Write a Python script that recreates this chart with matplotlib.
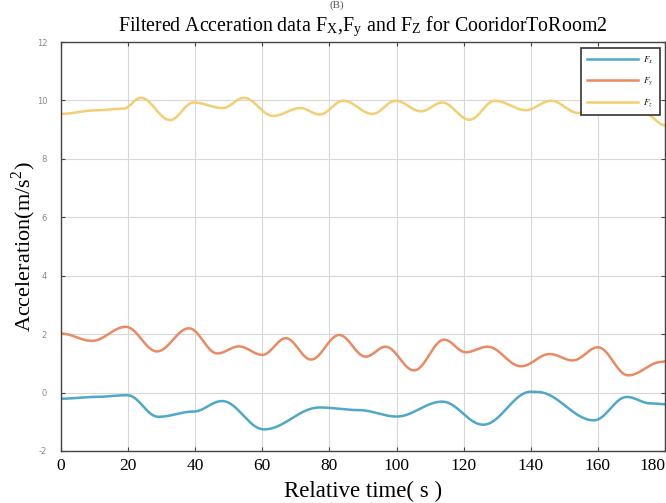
import numpy as np
import matplotlib
matplotlib.use("Agg")
import matplotlib.pyplot as plt

# values (time in s, acceleration in m/s^2)
fx_t = [0, 10, 19.8, 29, 39.5, 48, 60.5, 77, 88.7, 100, 113.6, 125.8, 140, 142, 158.8, 168.6, 175.6, 180]
fx_a = [-0.21, -0.15, -0.09, -0.83, -0.65, -0.29, -1.26, -0.51, -0.6, -0.82, -0.31, -1.1, 0.03, 0.02, -0.95, -0.15, -0.37, -0.4]

fy_t = [0, 9.2, 19.3, 28.6, 38.1, 46.6, 53, 60, 67, 74.5, 82.9, 90.8, 96.7, 105.2, 114.2, 120.6, 127.1, 137.1,
        145.6, 152.5, 160, 169, 179, 180]
fy_a = [2.02, 1.77, 2.25, 1.41, 2.2, 1.34, 1.58, 1.29, 1.86, 1.13, 1.97, 1.23, 1.57, 0.76, 1.81, 1.38, 1.57, 0.9,
        1.32, 1.1, 1.55, 0.59, 1.05, 1.07]

fz_t = [0, 10, 18.6, 23.8, 32.5, 39.5, 48.2, 54.5, 63.2, 71.3, 77.1, 84.1, 92.8, 99.7, 107.3, 113.6, 121.7,
        129.3, 138.5, 146, 154.2, 161, 168, 174, 180]
fz_a = [9.54, 9.66, 9.72, 10.09, 9.33, 9.93, 9.74, 10.09, 9.47, 9.74, 9.52, 9.99, 9.54, 9.99, 9.63, 9.93, 9.34,
        9.99, 9.67, 9.99, 9.57, 9.8, 9.7, 9.55, 9.15]

x_ticks = [0, 20, 40, 60, 80, 100, 120, 140, 160, 180]
y_ticks = [-2, 0, 2, 4, 6, 8, 10, 12]


def smooth(t, a, n=600):
    # cosine-eased join between the read points, so the curve looks filtered
    t = np.asarray(t, float)
    a = np.asarray(a, float)
    tt = np.linspace(t[0], t[-1], n)
    idx = np.clip(np.searchsorted(t, tt, side="right") - 1, 0, len(t) - 2)
    u = (tt - t[idx]) / (t[idx + 1] - t[idx])
    w = (1 - np.cos(np.pi * u)) / 2
    return tt, a[idx] * (1 - w) + a[idx + 1] * w


plt.rcParams["mathtext.fontset"] = "stix"
serif = "Liberation Serif"

fig = plt.figure(figsize=(6.66, 5.03), dpi=100)
ax = fig.add_axes([0.0916, 0.1034, 0.907, 0.813])

ax.plot(*smooth(fx_t, fx_a), color="#4fa8c9", lw=1.8, label=r"$F_x$")
ax.plot(*smooth(fy_t, fy_a), color="#ea8a62", lw=1.8, label=r"$F_y$")
ax.plot(*smooth(fz_t, fz_a), color="#f3cf72", lw=1.8, label=r"$F_z$")

ax.set_xlim(0, 180)
ax.set_ylim(-2, 12)
ax.set_xticks(x_ticks)
ax.set_yticks(y_ticks)
ax.set_xticklabels([str(v) for v in x_ticks], fontfamily=serif, fontsize=12.5)
ax.get_xticklabels()[-1].set_horizontalalignment("right")
ax.get_xticklabels()[-1].set_x(180.5)
ax.set_yticklabels([str(v) for v in y_ticks], fontsize=6, color="#8a8a8a")
ax.tick_params(direction="in", top=True, right=True, length=3, color="#444444", width=0.8)
ax.tick_params(axis="x", pad=5)
ax.tick_params(axis="y", pad=10)
ax.grid(True, color="#d8d8d8", lw=0.8)
for s in ax.spines.values():
    s.set_color("#444444")
    s.set_linewidth(1.0)

ax.set_title(r"Filtered Acceration data F$_{\mathregular{X}}$,F$_{\mathregular{y}}$ and F$_{\mathregular{Z}}$ for CooridorToRoom2",
             fontfamily=serif, fontsize=14.3, pad=8)
ax.set_xlabel("Relative time( s )", fontfamily=serif, fontsize=16.5, labelpad=5)
ax.set_ylabel(r"Acceleration(m/s$^{\mathregular{2}}$)", fontfamily=serif, fontsize=16, labelpad=-1)

leg = ax.legend(loc="upper right", bbox_to_anchor=(1 - 5 / 604, 1 - 6 / 409), borderaxespad=0,
                fontsize=6.5, handlelength=5.6, labelspacing=1.1, borderpad=0.7, handletextpad=0.6,
                fancybox=False, framealpha=1)
leg.get_frame().set_edgecolor("#333333")
leg.get_frame().set_linewidth(1.2)

fig.text(0.505, 0.999, "(B)", fontfamily=serif, fontsize=8, ha="center", va="top", color="#555555")

fig.savefig("out.png", dpi=100)
